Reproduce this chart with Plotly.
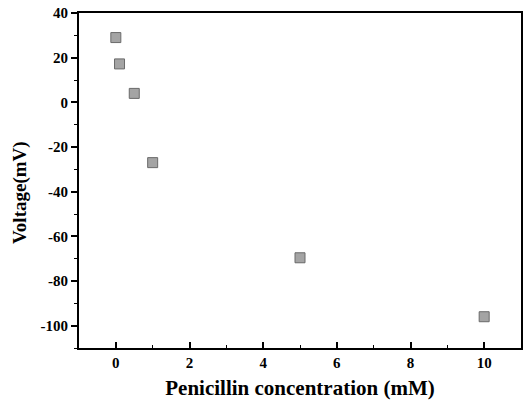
import plotly.graph_objects as go

concentration = [0, 0.1, 0.5, 1, 5, 10]
voltage = [29, 17.2, 4, -27, -69.6, -96]
x_ticks = [0, 2, 4, 6, 8, 10]
y_ticks = [-100, -80, -60, -40, -20, 0, 20, 40]

font_family = "Liberation Serif"

fig = go.Figure(go.Scatter(
    x=concentration, y=voltage, mode="markers",
    marker=dict(symbol="square", size=10, color="#a4a4a4",
                line=dict(color="#6a6a6a", width=1)),
))

fig.update_layout(
    width=525, height=404,
    margin=dict(l=79, r=2, t=13, b=56),
    paper_bgcolor="white", plot_bgcolor="white",
    showlegend=False,
    font=dict(family=font_family, color="black"),
)
fig.update_xaxes(
    range=[-1, 11], tickvals=x_ticks, ticktext=[f"<b>{v}</b>" for v in x_ticks],
    ticks="inside", ticklen=6, tickwidth=1.5, tickcolor="black",
    minor=dict(dtick=1, ticks="inside", ticklen=3, tickcolor="black", tickwidth=1),
    showline=True, linewidth=2, linecolor="black", mirror=True,
    showgrid=False, zeroline=False,
    tickfont=dict(size=15, family=font_family),
    title=dict(text="<b>Penicillin concentration (mM)</b>", font=dict(size=21, family=font_family), standoff=10),
)
fig.update_yaxes(
    range=[-110, 40], tickvals=y_ticks, ticktext=[f"<b>{v}</b>" for v in y_ticks],
    ticks="outside", ticklen=6, tickwidth=1.5, tickcolor="black",
    minor=dict(dtick=10, ticks="outside", ticklen=3, tickcolor="black", tickwidth=1),
    showline=True, linewidth=2, linecolor="black", mirror=True,
    showgrid=False, zeroline=False,
    tickfont=dict(size=15, family=font_family),
)
fig.add_annotation(
    text="<b>Voltage(mV)</b>", textangle=-90,
    xref="paper", yref="paper", x=-0.133, y=0.463,
    xanchor="center", yanchor="middle", showarrow=False,
    font=dict(size=19, family=font_family, color="black"),
)

fig.write_html("out.html")
